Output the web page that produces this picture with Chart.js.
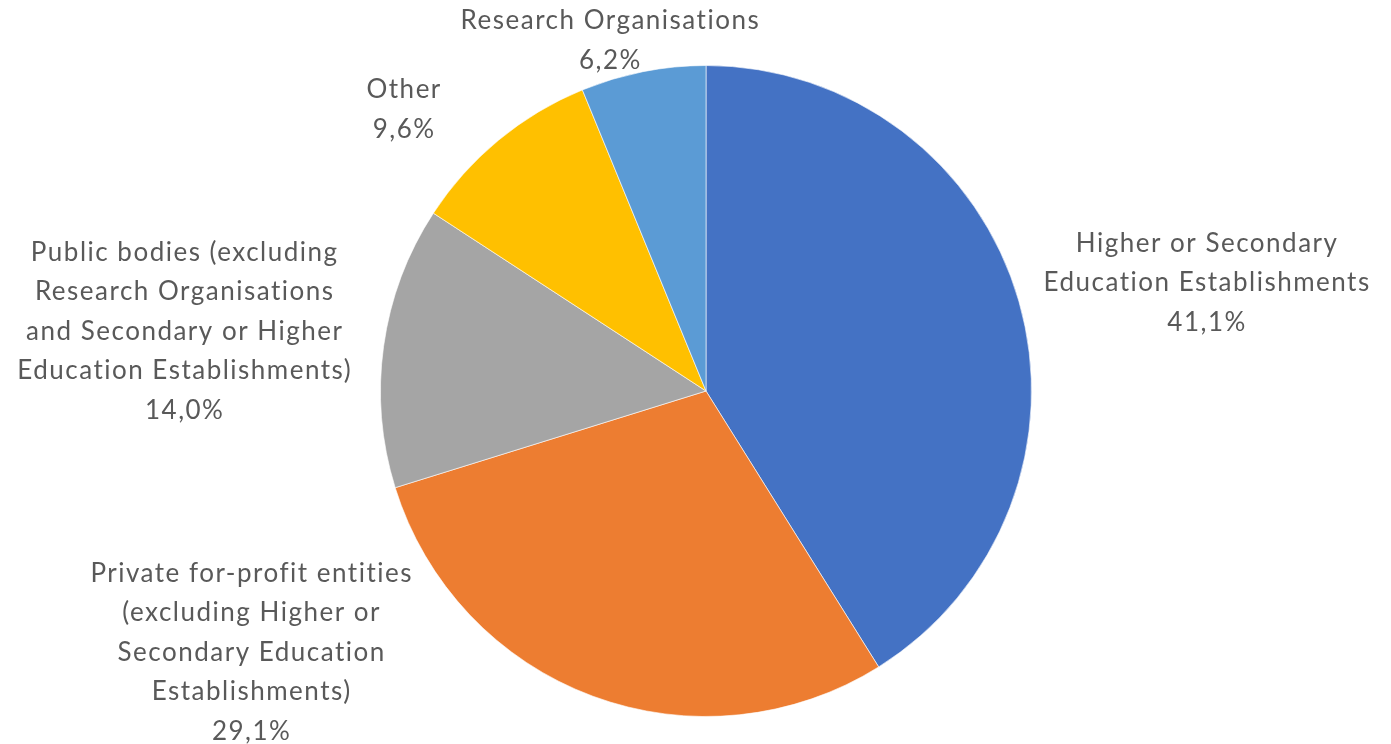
<!DOCTYPE html>
<html>
<head>
<meta charset="utf-8">
<script src="https://cdn.jsdelivr.net/npm/chart.js@4/dist/chart.umd.min.js"></script>
<style>
  html, body { margin: 0; padding: 0; background: #ffffff; }
  #wrap { width: 1391px; height: 744px; position: relative; }
</style>
</head>
<body>
<div id="wrap"><canvas id="c" width="1391" height="744"></canvas></div>
<script>
// ---- Data ----
const categories = [
  ["Higher or Secondary", "Education Establishments"],
  ["Private for-profit entities", "(excluding Higher or", "Secondary Education", "Establishments)"],
  ["Public bodies (excluding", "Research Organisations", "and Secondary or Higher", "Education Establishments)"],
  ["Other"],
  ["Research Organisations"]
];
const values = [41.1, 29.1, 14.0, 9.6, 6.2];
const colors = ["#4472C4", "#ED7D31", "#A5A5A5", "#FFC000", "#5B9BD5"];

// label placement relative to slice mid-angle (degrees) and outer radius (multiples)
const labelAngleNudge = [3.8, 39.8, -1.4, -7.5, -4.25];
const labelDistance = [1.572, 1.613, 1.615, 1.270, 1.117];

const fmtPct = v => v.toFixed(1).replace('.', ',') + '%';

const outsideLabels = {
  id: 'outsideLabels',
  afterDatasetsDraw(chart) {
    const ctx = chart.ctx;
    const meta = chart.getDatasetMeta(0);
    const fontSize = 26;
    const lineH = 39.5;
    ctx.save();
    ctx.font = fontSize + 'px Lato, "Open Sans", sans-serif';
    if ('letterSpacing' in ctx) ctx.letterSpacing = '1.5px';
    ctx.fillStyle = '#595959';
    ctx.textAlign = 'center';
    ctx.textBaseline = 'middle';
    meta.data.forEach((arc, i) => {
      const mid = (arc.startAngle + arc.endAngle) / 2 + labelAngleNudge[i] * Math.PI / 180;
      const r = arc.outerRadius * labelDistance[i];
      const cx = arc.x + Math.cos(mid) * r;
      const cy = arc.y + Math.sin(mid) * r;
      const lines = categories[i].concat([fmtPct(values[i])]);
      const top = cy - (lines.length - 1) * lineH / 2;
      lines.forEach((t, k) => ctx.fillText(t, cx + 1, top + k * lineH));
    });
    ctx.restore();
  }
};

new Chart(document.getElementById('c'), {
  type: 'pie',
  data: {
    labels: categories.map(c => c.join(' ')),
    datasets: [{
      data: values,
      backgroundColor: colors,
      borderColor: 'rgba(255,255,255,0.6)',
      borderWidth: 1
    }]
  },
  options: {
    responsive: false,
    animation: false,
    layout: { padding: { top: 65, bottom: 27, left: 380, right: 359 } },
    plugins: {
      legend: { display: false },
      tooltip: { enabled: false }
    }
  },
  plugins: [outsideLabels]
});
</script>
</body>
</html>
